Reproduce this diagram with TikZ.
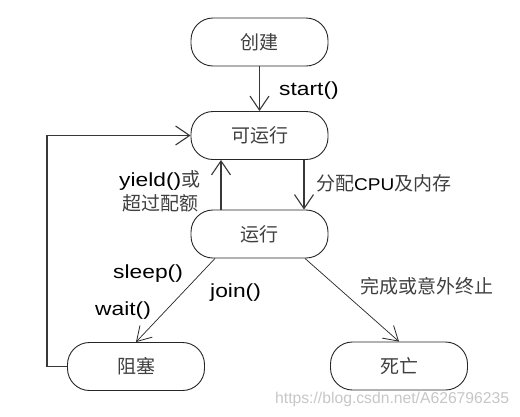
\documentclass[tikz,border=0pt]{standalone}
\usepackage{fontspec}
\newfontfamily\lat{Liberation Sans}[FakeStretch=1.2]
\newfontfamily\latn{Liberation Sans}[FakeStretch=1.12]
\newfontfamily\wmfont{Liberation Sans}
\newfontfamily\cjk{Noto Sans CJK SC}
\usetikzlibrary{arrows.meta}
\begin{document}
\begin{tikzpicture}[x=1pt,y=-1pt,
  state/.style={draw=black!85, line width=0.9pt, rounded corners=22pt,
    minimum width=137pt, minimum height=48pt, inner sep=0pt,
    font=\cjk\fontsize{19}{19}\selectfont, text=black!75},
  thickarrow/.style={line width=1.4pt, draw=black!78,
    -{Straight Barb[length=14pt,width=19pt,line width=1.1pt]}},
  thinarrow/.style={line width=0.7pt, draw=black!85,
    -{Straight Barb[length=14pt,width=17pt,line width=0.8pt]}},
  lbl/.style={inner sep=0pt, font=\lat\fontsize{19}{19}\selectfont},
  clbl/.style={inner sep=0pt, font=\cjk\fontsize{19}{19}\selectfont, text=black!75}]
\fill[white] (0,0) rectangle (520,416);
\useasboundingbox (0,0) rectangle (520,416);

\node[state] (create) at (259.5,42) {创建};
\node[state] (ready)  at (259.5,135.5) {可运行};
\node[state] (run)    at (259.5,234) {运行};
\node[state] (block)  at (136,366.5) {阻塞};
\node[state] (dead)   at (399,366) {死亡};

\draw[thickarrow] (create.south) -- (ready.north);
\draw[thickarrow] (block.west) -- ++(-20,0) |- (ready.west);
\draw[thickarrow] ([xshift=-38.5pt]run.north) -- ([xshift=-38.5pt]ready.south);
\draw[thickarrow] ([xshift=44.5pt]ready.south) -- ([xshift=44.5pt]run.north);
\draw[thinarrow] ([xshift=-44.5pt]run.south) -- (block.north);
\draw[thinarrow] ([xshift=45.5pt]run.south) -- (dead.north);

\node[lbl, anchor=base west] (lstart) at (279,95) {start()};
\node[lbl, anchor=base west] (lyield) at (119,186) {yield()\cjk\color{black!75}或};
\node[clbl, anchor=west] (lquota) at (122,203) {超过配额};
\node[clbl, anchor=base west] (lcpu) at (316,190) {分配{\latn\fontsize{17}{17}\selectfont\color{black}CPU}及内存};
\node[lbl, anchor=base west] (lsleep) at (113,278) {sleep()};
\node[lbl, anchor=base west] (lwait) at (95,315) {wait()};
\node[lbl, anchor=base west] (ljoin) at (210,297) {join()};
\node[clbl, anchor=west] (lend) at (360,286) {完成或意外终止};
\node[inner sep=0pt, anchor=base west, font=\wmfont\fontsize{15.7}{15.7}\selectfont, text=black!22] (wm) at (275,403) {https://blog.csdn.net/A626796235};
\end{tikzpicture}
\end{document}
